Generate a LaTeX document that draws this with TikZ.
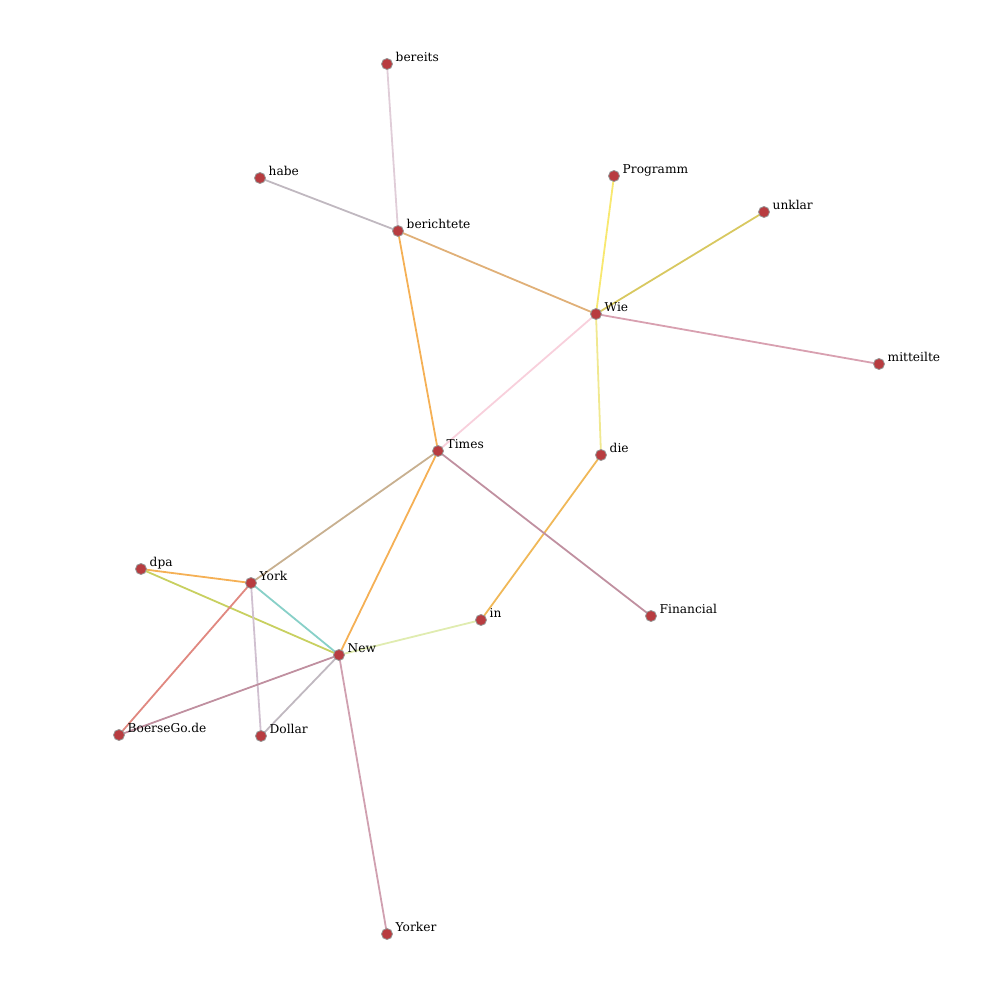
\documentclass[tikz,border=0pt]{standalone}
\usepackage{fontspec}
\setmainfont{DejaVu Serif}
\begin{document}
\begin{tikzpicture}[x=1pt,y=-1pt,
  vert/.style={circle,fill={rgb,255:red,184;green,60;blue,64},draw={rgb,255:red,150;green,150;blue,150},line width=0.8pt,minimum size=11pt,inner sep=0pt},
  lab/.style={anchor=base west,inner sep=0pt,font=\fontsize{12.2}{14}\selectfont},
  edge/.style={line width=1.8pt}]
\useasboundingbox (0,0) rectangle (1000,1000);
\definecolor{cA}{RGB}{224,205,216}
\definecolor{cB}{RGB}{192,184,192}
\definecolor{cC}{RGB}{224,176,120}
\definecolor{cD}{RGB}{245,176,85}
\definecolor{cE}{RGB}{248,232,112}
\definecolor{cF}{RGB}{216,200,96}
\definecolor{cG}{RGB}{216,160,176}
\definecolor{cH}{RGB}{248,208,220}
\definecolor{cI}{RGB}{240,232,144}
\definecolor{cJ}{RGB}{240,184,88}
\definecolor{cK}{RGB}{200,176,144}
\definecolor{cL}{RGB}{192,144,160}
\definecolor{cM}{RGB}{200,208,96}
\definecolor{cN}{RGB}{136,208,200}
\definecolor{cO}{RGB}{224,136,128}
\definecolor{cP}{RGB}{208,192,208}
\definecolor{cQ}{RGB}{224,236,176}
\definecolor{cR}{RGB}{208,160,176}
\coordinate (bereits) at (387,64);
\coordinate (habe) at (260,178);
\coordinate (berichtete) at (398,231);
\coordinate (Programm) at (614,176);
\coordinate (unklar) at (764,212);
\coordinate (Wie) at (596,314);
\coordinate (mitteilte) at (879,364);
\coordinate (Times) at (438,451);
\coordinate (die) at (601,455);
\coordinate (dpa) at (141,569);
\coordinate (York) at (251,583);
\coordinate (Financial) at (651,616);
\coordinate (in) at (481,620);
\coordinate (New) at (339,655);
\coordinate (Boerse) at (119,735);
\coordinate (Dollar) at (261,736);
\coordinate (Yorker) at (387,934);
\draw[edge,cA] (bereits) -- (berichtete);
\draw[edge,cB] (habe) -- (berichtete);
\draw[edge,cC] (berichtete) -- (Wie);
\draw[edge,cD] (berichtete) -- (Times);
\draw[edge,cE] (Programm) -- (Wie);
\draw[edge,cF] (unklar) -- (Wie);
\draw[edge,cG] (Wie) -- (mitteilte);
\draw[edge,cH] (Wie) -- (Times);
\draw[edge,cI] (Wie) -- (die);
\draw[edge,cJ] (die) -- (in);
\draw[edge,cK] (Times) -- (York);
\draw[edge,cD] (Times) -- (New);
\draw[edge,cL] (Times) -- (Financial);
\draw[edge,cD] (dpa) -- (York);
\draw[edge,cM] (dpa) -- (New);
\draw[edge,cN] (York) -- (New);
\draw[edge,cO] (York) -- (Boerse);
\draw[edge,cP] (York) -- (Dollar);
\draw[edge,cL] (New) -- (Boerse);
\draw[edge,cB] (New) -- (Dollar);
\draw[edge,cQ] (New) -- (in);
\draw[edge,cR] (New) -- (Yorker);
\foreach \n/\t in {bereits/bereits,habe/habe,berichtete/berichtete,Programm/Programm,unklar/unklar,Wie/Wie,mitteilte/mitteilte,Times/Times,die/die,dpa/dpa,York/York,Financial/Financial,in/in,New/New,Boerse/BoerseGo.de,Dollar/Dollar,Yorker/Yorker}{
  \node[vert] (v\n) at (\n) {};
  \node[lab] (l\n) at ([xshift=8.5,yshift=2.5]\n) {\t};
}
\end{tikzpicture}
\end{document}
